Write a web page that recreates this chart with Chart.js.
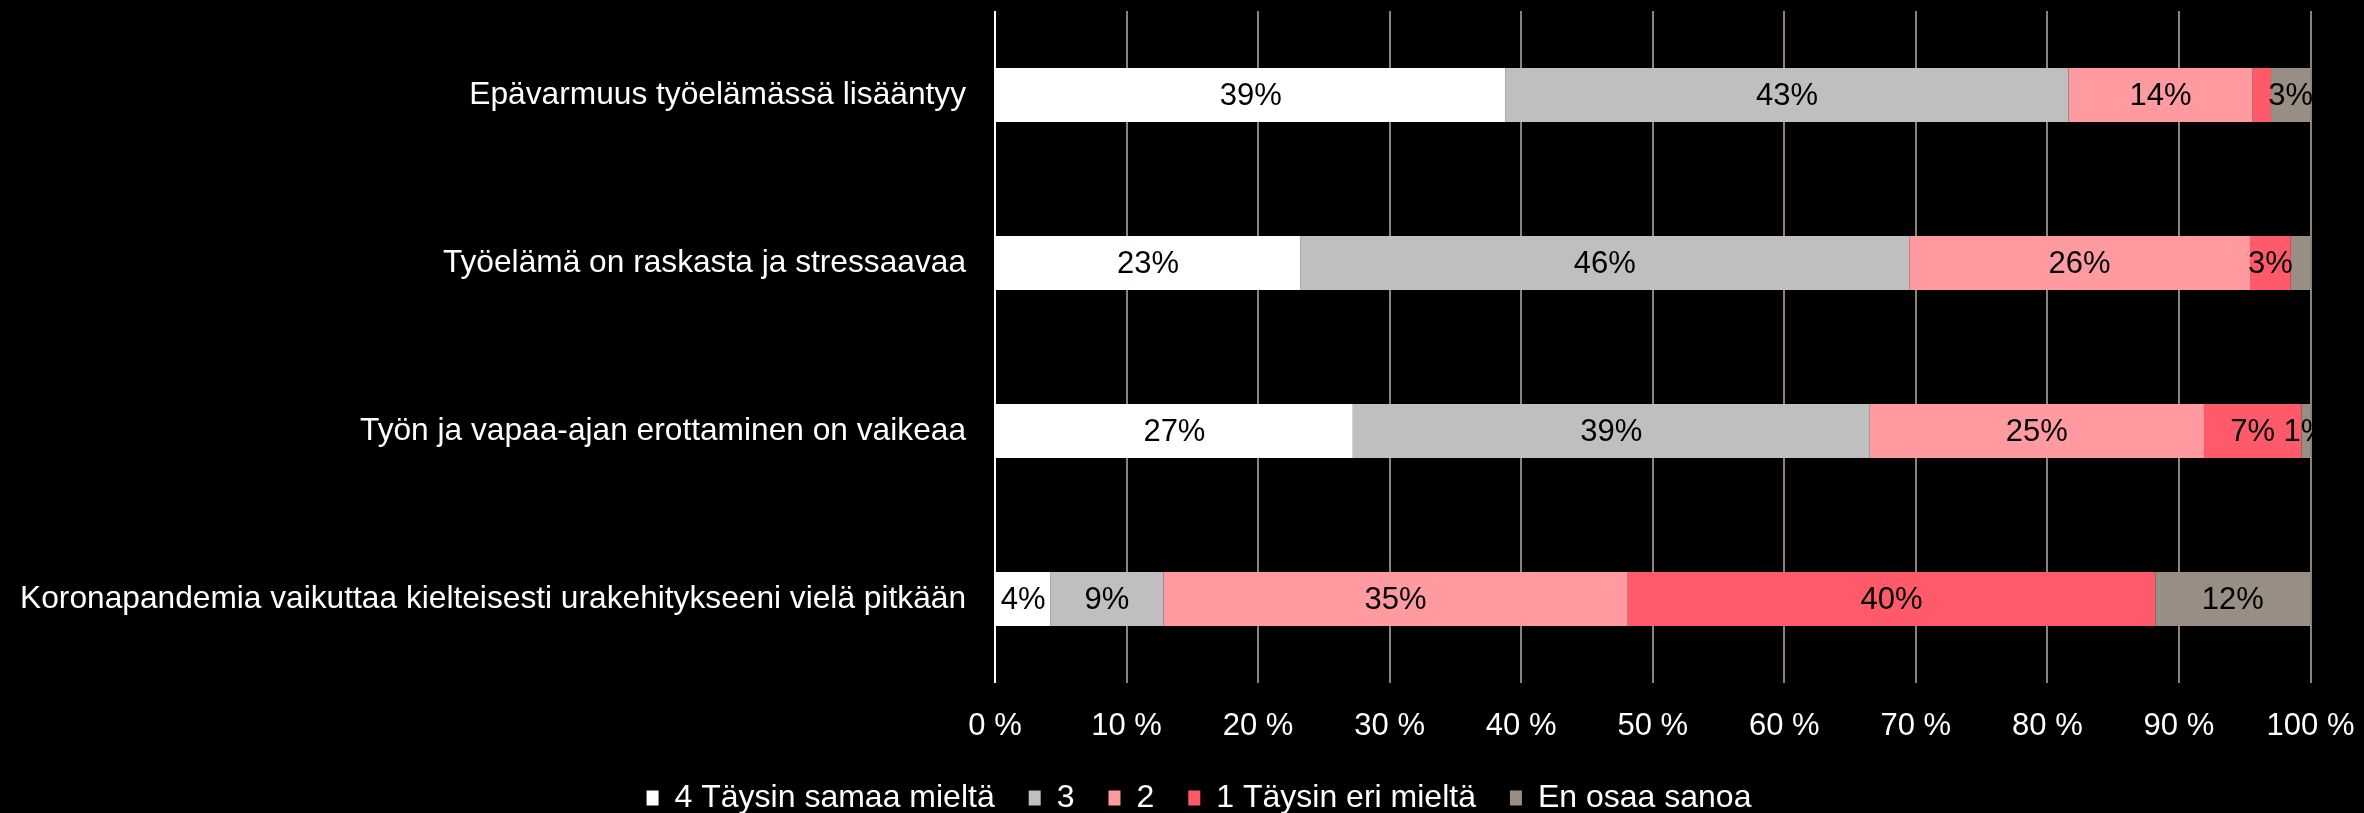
<!DOCTYPE html>
<html>
<head>
<meta charset="utf-8">
<script src="https://cdn.jsdelivr.net/npm/chart.js@4"></script>
<style>
  html, body { margin: 0; padding: 0; background: #000; }
  #wrap { width: 2364px; height: 813px; background: #000; }
</style>
</head>
<body>
<div id="wrap"><canvas id="c" width="2364" height="813"></canvas></div>
<script>
const categories = [
  'Epävarmuus työelämässä lisääntyy',
  'Työelämä on raskasta ja stressaavaa',
  'Työn ja vapaa-ajan erottaminen on vaikeaa',
  'Koronapandemia vaikuttaa kielteisesti urakehitykseeni vielä pitkään'
];
const seriesNames = ['4 Täysin samaa mieltä', '3', '2', '1 Täysin eri mieltä', 'En osaa sanoa'];
const taysinSamaa = [38.8, 23.2, 27.2, 4.2];
const kolme       = [42.8, 46.3, 39.3, 8.6];
const kaksi       = [14.0, 25.9, 25.4, 35.3];
const taysinEri   = [1.4, 3.1, 7.4, 40.1];
const enOsaa      = [3.0, 1.5, 0.7, 11.8];
const tickLabels = ['0 %', '10 %', '20 %', '30 %', '40 %', '50 %', '60 %', '70 %', '80 %', '90 %', '100 %'];
// segments whose value label is not shown: [categoryIndex, seriesIndex]
const hiddenLabels = [[0, 3], [1, 4]];

const colors = ['#FFFFFF', '#BFBFBF', '#FF9AA1', '#FF5A69', '#998E83'];
const FONT = "'Liberation Sans', Arial, sans-serif";
const FS = 31;

Chart.defaults.font.family = FONT;
Chart.defaults.font.size = FS;
Chart.defaults.color = '#FFFFFF';

const bgPlugin = {
  id: 'bg',
  beforeDraw(chart) {
    const c = chart.ctx;
    c.save();
    c.fillStyle = '#000';
    c.fillRect(0, 0, chart.width, chart.height);
    c.restore();
  }
};

// centre the legend as in the original (which is offset to the right)
const legendShift = {
  id: 'legendShift',
  afterLayout(chart) {
    const l = chart.legend;
    if (l) { l.left += 43.75; l.right += 43.75; }
  }
};

const segLabels = {
  id: 'segLabels',
  afterDatasetsDraw(chart) {
    const { ctx, chartArea } = chart;
    ctx.save();
    ctx.beginPath();
    ctx.rect(chartArea.left, chartArea.top - 10, chartArea.right - chartArea.left + 3, chartArea.bottom - chartArea.top + 20);
    ctx.clip();
    ctx.font = FS + 'px ' + FONT;
    ctx.fillStyle = '#000000';
    ctx.textAlign = 'center';
    ctx.textBaseline = 'middle';
    chart.data.datasets.forEach((ds, si) => {
      const meta = chart.getDatasetMeta(si);
      meta.data.forEach((bar, ci) => {
        if (hiddenLabels.some(h => h[0] === ci && h[1] === si)) return;
        const v = ds.data[ci];
        const x = (bar.x + bar.base) / 2;
        ctx.fillText(Math.round(v) + '%', x, bar.y + 1);
      });
    });
    ctx.restore();
  }
};

const seriesData = [taysinSamaa, kolme, kaksi, taysinEri, enOsaa];

new Chart(document.getElementById('c'), {
  type: 'bar',
  data: {
    labels: categories,
    datasets: seriesData.map((d, i) => ({
      label: seriesNames[i],
      data: d,
      backgroundColor: colors[i],
      borderWidth: 0,
      categoryPercentage: 0.3214,
      barPercentage: 1.0
    }))
  },
  options: {
    indexAxis: 'y',
    responsive: false,
    animation: false,
    devicePixelRatio: 1,
    layout: { padding: { top: 11, left: 0, right: 53.5, bottom: -11 } },
    plugins: {
      legend: {
        position: 'bottom',
        labels: {
          color: '#FFFFFF',
          font: { size: 32, family: FONT },
          boxWidth: 12,
          boxHeight: 15,
          padding: 34
        }
      },
      tooltip: { enabled: false },
      title: { display: false }
    },
    scales: {
      x: {
        stacked: true,
        min: 0,
        max: 100,
        ticks: {
          stepSize: 10,
          color: '#FFFFFF',
          padding: 25,
          maxRotation: 0,
          font: { size: FS, family: FONT },
          callback: (v, i) => tickLabels[i]
        },
        grid: {
          drawTicks: false,
          lineWidth: 2,
          color: ctx => (ctx.index === 0 ? '#FFFFFF' : '#8C8279')
        },
        border: { display: false },
        afterFit(scale) {
          scale.height = 65;
          scale.paddingLeft = 0;
          scale.paddingRight = 0;
        }
      },
      y: {
        stacked: true,
        ticks: {
          color: '#FFFFFF',
          padding: 29,
          font: { size: 31.7, family: FONT }
        },
        grid: { display: false, drawTicks: false },
        border: { display: false },
        afterFit(scale) {
          scale.width = 995;
          scale.paddingTop = 0;
          scale.paddingBottom = 0;
        }
      }
    }
  },
  plugins: [bgPlugin, legendShift, segLabels]
});
</script>
</body>
</html>
